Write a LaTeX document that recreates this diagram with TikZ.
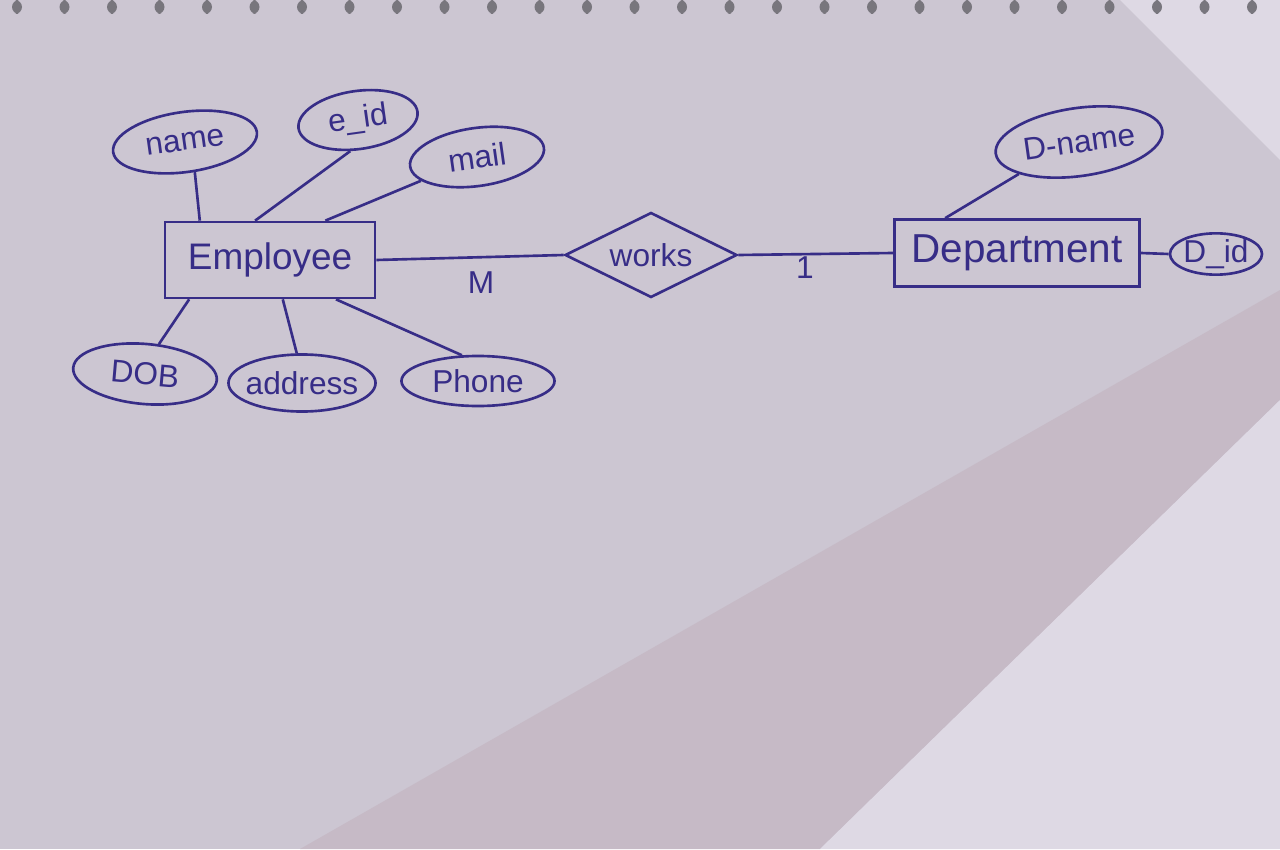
\documentclass[tikz,border=0pt]{standalone}
\usepackage{fontspec}
\setmainfont{Liberation Sans}
\usetikzlibrary{shapes.geometric,calc}
\definecolor{ink}{RGB}{55,45,135}
\definecolor{paper}{RGB}{204,198,210}
\definecolor{paperdark}{RGB}{198,186,198}
\definecolor{paperlight}{RGB}{222,217,228}
\definecolor{ring}{RGB}{120,118,125}
\tikzset{
  inkline/.style={draw=ink,line width=0.75pt},
  attr/.style={ellipse,inkline,inner xsep=-3pt,inner ysep=0pt,text=ink,font=\fontsize{9}{11}\selectfont},
  ent/.style={rectangle,inkline,inner sep=0pt,text=ink},
  rel/.style={diamond,aspect=2,inkline,inner sep=0pt,text=ink,font=\fontsize{9}{11}\selectfont},
  card/.style={text=ink,font=\fontsize{9}{11}\selectfont},
  conn/.style={ink,line width=0.75pt}
}
\begin{document}
\begin{tikzpicture}[x=0.01cm,y=-0.01cm]
\useasboundingbox (0,0) rectangle (1280,849);
% paper
\fill[paper] (0,0) rectangle (1280,849);
\fill[paperlight] (1280,0) -- (1120,0) -- (1280,160) -- cycle;
\fill[paperdark] (300,849) -- (1280,290) -- (1280,400) -- (820,849) -- cycle;
\fill[paperlight] (820,849) -- (1280,400) -- (1280,849) -- cycle;
% spiral holes
\foreach \i in {0,...,26} {
  \fill[ring,rounded corners=2pt] ({12+\i*47.5},0) rectangle ({22+\i*47.5},14);
}
% entities
\node[ent,minimum width=2.1cm,minimum height=0.76cm,font=\fontsize{10.5}{12}\selectfont] (emp) at (270,260) {Employee};
\node[ent,minimum width=2.45cm,minimum height=0.67cm,font=\fontsize{11.5}{13}\selectfont] (dept) at (1017,253) {Department};
% relationship
\node[rel,minimum width=1.72cm,minimum height=0.85cm] (works) at (651,255) {works};
% attributes
\node[attr,minimum width=1.45cm,minimum height=0.6cm,rotate=8] (name) at (185,142) {name};
\node[attr,minimum width=1.2cm,minimum height=0.58cm,rotate=8] (eid) at (358,120) {e\_id};
\node[attr,minimum width=1.35cm,minimum height=0.58cm,rotate=8] (mail) at (477,157) {mail};
\node[attr,minimum width=1.44cm,minimum height=0.6cm,rotate=-5] (dob) at (145,374) {DOB};
\node[attr,minimum width=1.47cm,minimum height=0.57cm] (addr) at (302,383) {address};
\node[attr,minimum width=1.53cm,minimum height=0.5cm] (phone) at (478,381) {Phone};
\node[attr,minimum width=1.68cm,minimum height=0.68cm,rotate=8] (dname) at (1079,142) {D-name};
\node[attr,minimum width=0.92cm,minimum height=0.4cm] (did) at (1216,254) {D\_id};
% cardinalities
\node[card] (m) at (481,283) {M};
\node[card] (one) at (805,268) {1};
% connectors
\draw[conn] (emp.east) -- (works.west);
\draw[conn] (works.east) -- (dept.west);
\draw[conn] (dept.east) -- (did.west);
\draw[conn] (name.-80) -- ($(emp.north west)!0.17!(emp.north east)$);
\draw[conn] (eid.-112) -- ($(emp.north west)!0.43!(emp.north east)$);
\draw[conn] (mail.-165) -- ($(emp.north west)!0.76!(emp.north east)$);
\draw[conn] (dob.70) -- ($(emp.south west)!0.12!(emp.south east)$);
\draw[conn] (addr.100) -- ($(emp.south west)!0.56!(emp.south east)$);
\draw[conn] (phone.122) -- ($(emp.south west)!0.81!(emp.south east)$);
\draw[conn] (dname.-160) -- ($(dept.north west)!0.21!(dept.north east)$);
\end{tikzpicture}
\end{document}
